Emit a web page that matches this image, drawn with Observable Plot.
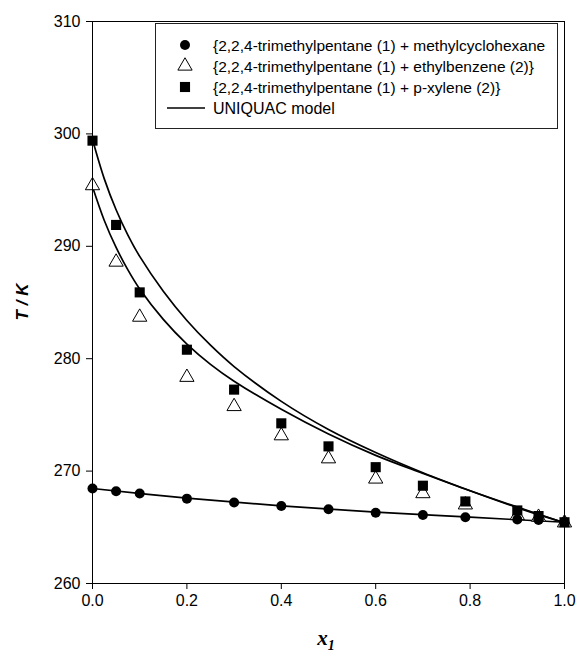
<!DOCTYPE html>
<html><head><meta charset="utf-8">
<script src="https://cdn.jsdelivr.net/npm/d3@7"></script>
<script src="https://cdn.jsdelivr.net/npm/@observablehq/plot@0.6"></script>
<style>body{margin:0;background:#fff}#chart{width:576px;height:658px}</style>
</head><body><div id="chart"></div>
<script>
// Experimental points (x1, T/K)
const xExp = [0, 0.05, 0.1, 0.2, 0.3, 0.4, 0.5, 0.6, 0.7, 0.79, 0.9, 0.945, 1];
const tMCH = [268.45, 268.2, 268.0, 267.55, 267.2, 266.9, 266.6, 266.3, 266.1, 265.9, 265.7, 265.65, 265.45];
const tEB  = [295.4, 288.6, 283.7, 278.35, 275.75, 273.15, 271.1, 269.3, 268.0, 267.0, 266.05, 265.9, 265.4];
const tPX  = [299.4, 291.9, 285.9, 280.8, 277.25, 274.25, 272.2, 270.35, 268.7, 267.3, 266.5, 266.0, 265.45];
// UNIQUAC model curves
const xModel = [0, 0.025, 0.05, 0.075, 0.1, 0.15, 0.2, 0.25, 0.3, 0.4, 0.5, 0.6, 0.7, 0.8, 0.9, 1];
const tModelPX = [299.5, 296.0, 293.25, 291.0, 289.1, 286.0, 283.4, 281.2, 279.3, 276.2, 273.7, 271.65, 269.85, 268.25, 266.75, 265.4];
const tModelEB = [295.3, 292.3, 289.9, 287.9, 286.2, 283.5, 281.3, 279.5, 278.0, 275.5, 273.3, 271.4, 269.8, 268.25, 266.8, 265.4];
const xModelMCH = [0, 0.2, 0.4, 0.6, 0.8, 1];
const tModelMCH = [268.45, 267.6, 266.9, 266.35, 265.9, 265.45];
// Ticks and labels
const xTicks = [0, 0.2, 0.4, 0.6, 0.8, 1.0];
const yTicks = [260, 270, 280, 290, 300, 310];
const legendLabels = [
  "{2,2,4-trimethylpentane (1) + methylcyclohexane",
  "{2,2,4-trimethylpentane (1) + ethylbenzene (2)}",
  "{2,2,4-trimethylpentane (1) + p-xylene (2)}",
  "UNIQUAC model"
];
const yLabel = "T / K";

const pts = (xs, ts) => xs.map((x, i) => ({x, t: ts[i]}));
const rCircle = 5, rTri = 5.3, rSq = 5.7;

const chart = Plot.plot({
  width: 576, height: 658,
  marginTop: 21, marginBottom: 75, marginLeft: 92, marginRight: 12,
  style: {fontFamily: "'Liberation Sans', Arial, sans-serif", fontSize: "16px", background: "white", color: "black"},
  x: {domain: [0, 1]},
  y: {domain: [260, 310]},
  marks: [
    Plot.axisX({ticks: xTicks, tickFormat: d3.format(".1f"), tickSize: 6, tickPadding: 5, label: null}),
    Plot.axisY({ticks: yTicks, tickSize: 6, tickPadding: 6, label: null}),
    Plot.line(pts(xModel, tModelPX), {x: "x", y: "t", curve: "catmull-rom", stroke: "black", strokeWidth: 1.7}),
    Plot.line(pts(xModel, tModelEB), {x: "x", y: "t", curve: "catmull-rom", stroke: "black", strokeWidth: 1.7}),
    Plot.line(pts(xModelMCH, tModelMCH), {x: "x", y: "t", curve: "catmull-rom", stroke: "black", strokeWidth: 1.7}),
    Plot.dot(pts(xExp, tEB), {x: "x", y: "t", symbol: "triangle", r: rTri, fill: "white", stroke: "black", strokeWidth: 1}),
    Plot.dot(pts(xExp, tPX), {x: "x", y: "t", symbol: "square", r: rSq, fill: "black", stroke: "none"}),
    Plot.dot(pts(xExp, tMCH), {x: "x", y: "t", symbol: "circle", r: rCircle, fill: "black", stroke: "none"}),
    Plot.frame({stroke: "black", strokeWidth: 1})
  ]
});
document.getElementById("chart").appendChild(chart);

const svg = d3.select(chart);
// Y axis title
svg.append("text")
  .attr("transform", "translate(28,302) rotate(-90)")
  .attr("text-anchor", "middle")
  .style("font-family", "'Liberation Sans', Arial, sans-serif")
  .style("font-size", "17px").style("font-weight", "bold").style("font-style", "italic")
  .text(yLabel);
// X axis title with subscript
const xt = svg.append("text")
  .attr("x", 326).attr("y", 645)
  .attr("text-anchor", "middle")
  .style("font-family", "'Liberation Serif', 'Times New Roman', serif")
  .style("font-weight", "bold").style("font-style", "italic");
xt.append("tspan").style("font-size", "21px").text("x");
xt.append("tspan").style("font-size", "14px").attr("dy", 5).text("1");

// Legend
const lg = svg.append("g").attr("text-anchor", "start");
lg.append("rect").attr("x", 155.5).attr("y", 23.5).attr("width", 402).attr("height", 105)
  .attr("fill", "white").attr("stroke", "#222").attr("stroke-width", 1);
const rows = [45, 66, 87, 108];
const mx = 185;
lg.append("path").attr("transform", `translate(${mx},${rows[0]})`)
  .attr("d", d3.symbol(d3.symbolCircle, Math.PI * rCircle * rCircle)()).attr("fill", "black");
lg.append("path").attr("transform", `translate(${mx},${rows[1]})`)
  .attr("d", d3.symbol(d3.symbolTriangle, Math.PI * rTri * rTri)()).attr("fill", "white").attr("stroke", "black");
lg.append("path").attr("transform", `translate(${mx},${rows[2]})`)
  .attr("d", d3.symbol(d3.symbolSquare, Math.PI * rSq * rSq)()).attr("fill", "black");
lg.append("line").attr("x1", 167).attr("x2", 205).attr("y1", rows[3]).attr("y2", rows[3])
  .attr("stroke", "black").attr("stroke-width", 1.7);
legendLabels.forEach((t, i) => {
  lg.append("text").attr("x", 213).attr("y", rows[i] + 5.5)
    .attr("text-anchor", "start")
    .style("font-family", "'Liberation Sans', Arial, sans-serif")
    .style("font-size", i === 3 ? "16px" : "15.5px")
    .text(t);
});
</script>
</body></html>
